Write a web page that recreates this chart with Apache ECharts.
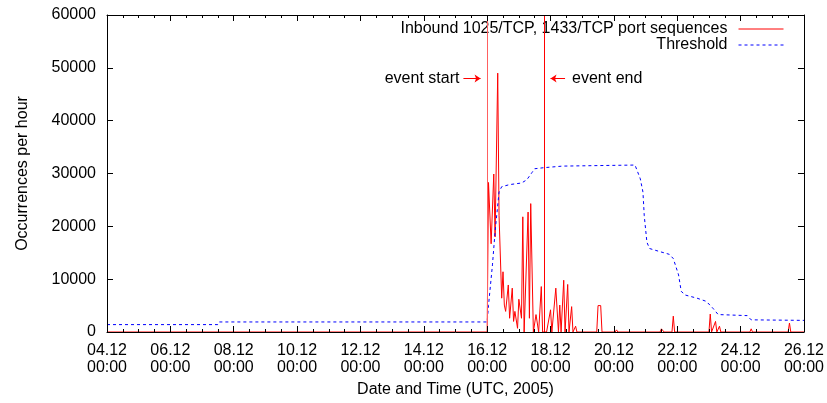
<!DOCTYPE html>
<html><head><meta charset="utf-8">
<script src="https://cdn.jsdelivr.net/npm/echarts@6/dist/echarts.min.js"></script>
<style>html,body{margin:0;padding:0;background:#fff}#c{width:827px;height:403px}</style>
</head><body><div id="c"></div>
<script>
// x values are hours since 04.12.2005 00:00 UTC
const xMinHours = 0;
const xMaxHours = 528;
const tickStepHours = 48;
const tickLabels = ['04.12\n00:00','06.12\n00:00','08.12\n00:00','10.12\n00:00','12.12\n00:00','14.12\n00:00',
                    '16.12\n00:00','18.12\n00:00','20.12\n00:00','22.12\n00:00','24.12\n00:00','26.12\n00:00'];

const inboundName = 'Inbound 1025/TCP, 1433/TCP port sequences';
const inboundHours = [0,288,289,291,293,294,296,297,299,300,301,302,304,305,307,308,309,311,312,314,315,316,319,320,321,323,
  325,326,327,329,330,333,336,337,340,341,342,343,344,346,347,349,350,352,353,355,356,371,372,374,375,385,386,387,
  419,420,421,422,428,429,430,456,457,458,461,462,464,465,487,488,489,516,517,518,528];
const inboundValues = [0,0,28300,16700,29900,18000,49000,22000,6400,11400,5100,3900,8900,2600,8300,2000,3900,700,6200,2600,21800,0,22700,2600,24300,0,
  3300,3300,0,8600,0,0,4200,0,8300,8000,0,5100,0,9800,0,9000,0,4800,0,1100,0,0,5000,5000,0,0,400,0,
  0,600,500,0,0,3000,0,0,3400,0,2000,0,1100,0,0,600,0,0,1700,0,0];

const thresholdName = 'Threshold';
const thresholdHours = [0,84,85,288,289,292,294,297,299,305,314,318,322,324,331,345,400,404,406,407,409,411,419,426,429,433,435,438,447,454,459,463,485,488,528];
const thresholdValues = [1400,1400,1900,1900,5000,12700,19000,26500,27500,27900,28200,28800,30200,30900,31100,31400,31600,29000,26500,22000,17000,15800,15200,14700,13900,10800,7700,7000,6400,5800,4500,3300,3100,2300,2200];

const eventStartHour = 288;
const eventEndHour = 331;
const eventStartLabel = 'event start';
const eventEndLabel = 'event end';
const startArrowHours = [270, 283];
const endArrowHours = [347, 336];
const arrowLevel = 48000;

const FONT = 'Liberation Sans, Arial, Helvetica, sans-serif';
const zip = (a, b) => a.map((v, i) => [v, b[i]]);

const chart = echarts.init(document.getElementById('c'), null, {renderer: 'canvas'});
const axisLine = {show: true, onZero: false, lineStyle: {color: '#000', width: 1}};
const xCommon = {
  type: 'value', min: xMinHours, max: xMaxHours, interval: tickStepHours,
  axisLine: axisLine, splitLine: {show: false},
  axisTick: {show: true, inside: true, length: 6, lineStyle: {color: '#000', width: 1}},
  minorTick: {show: true, splitNumber: 4, length: 3, lineStyle: {color: '#000', width: 1}},
  z: 5
};
const yCommon = {
  type: 'value', min: 0, max: 60000, interval: 10000,
  axisLine: axisLine, splitLine: {show: false},
  axisTick: {show: true, inside: true, length: 6, lineStyle: {color: '#000', width: 1}},
  z: 5
};
chart.setOption({
  animation: false,
  backgroundColor: '#fff',
  textStyle: {fontFamily: FONT},
  grid: {left: 107, right: 23, top: 15, bottom: 69},
  xAxis: [
    Object.assign({}, xCommon, {
      position: 'bottom',
      name: 'Date and Time (UTC, 2005)', nameLocation: 'middle', nameGap: 50,
      nameTextStyle: {fontSize: 16, color: '#000', fontFamily: FONT},
      axisLabel: {fontSize: 16, color: '#000', fontFamily: FONT, lineHeight: 17, margin: 10,
        formatter: v => tickLabels[Math.round((v - xMinHours) / tickStepHours)]}
    }),
    Object.assign({}, xCommon, {position: 'top', axisLabel: {show: false}})
  ],
  yAxis: [
    Object.assign({}, yCommon, {
      position: 'left',
      name: 'Occurrences per hour', nameLocation: 'middle', nameGap: 76,
      nameTextStyle: {fontSize: 16, color: '#000', fontFamily: FONT},
      axisLabel: {fontSize: 16, color: '#000', fontFamily: FONT, margin: 11, formatter: v => String(v)}
    }),
    Object.assign({}, yCommon, {position: 'right', axisLabel: {show: false}})
  ],
  legend: [
    {data: [inboundName], right: 43, top: 21, padding: 0, align: 'right', itemWidth: 45, itemHeight: 16,
     itemStyle: {opacity: 0}, lineStyle: {width: 1},
     textStyle: {fontSize: 16, color: '#000', fontFamily: FONT, padding: [0, 6, 0, 0]}},
    {data: [thresholdName], right: 43, top: 37, padding: 0, align: 'right', itemWidth: 45, itemHeight: 16,
     itemStyle: {opacity: 0}, lineStyle: {width: 1},
     textStyle: {fontSize: 16, color: '#000', fontFamily: FONT, padding: [0, 6, 0, 0]}}
  ],
  series: [
    {
      name: inboundName, type: 'line', data: zip(inboundHours, inboundValues),
      symbol: 'none', showSymbol: false, z: 2,
      lineStyle: {color: '#ff0000', width: 1}, itemStyle: {color: '#ff0000'},
      markLine: {
        silent: true, symbol: ['none', 'none'], animation: false,
        data: [
          {xAxis: eventStartHour, lineStyle: {color: '#ff6060', width: 1, type: 'solid'}, label: {show: false}},
          {xAxis: eventEndHour, lineStyle: {color: '#ff0000', width: 1, type: 'solid'}, label: {show: false}},
          [
            {coord: [startArrowHours[0], arrowLevel], symbol: 'none',
             lineStyle: {color: '#ff0000', width: 1, type: 'solid'},
             label: {show: true, position: 'start', formatter: eventStartLabel, fontSize: 16, color: '#000', fontFamily: FONT, distance: 4}},
            {coord: [startArrowHours[1], arrowLevel], symbol: 'arrow', symbolSize: 6}
          ],
          [
            {coord: [endArrowHours[0], arrowLevel], symbol: 'none',
             lineStyle: {color: '#ff0000', width: 1, type: 'solid'},
             label: {show: true, position: 'start', formatter: eventEndLabel, fontSize: 16, color: '#000', fontFamily: FONT, distance: 7}},
            {coord: [endArrowHours[1], arrowLevel], symbol: 'arrow', symbolSize: 6}
          ]
        ]
      }
    },
    {
      name: thresholdName, type: 'line', data: zip(thresholdHours, thresholdValues),
      symbol: 'none', showSymbol: false, z: 3,
      lineStyle: {color: '#0000ff', width: 1, type: [3, 3]}, itemStyle: {color: '#0000ff'}
    }
  ]
});
</script></body></html>
